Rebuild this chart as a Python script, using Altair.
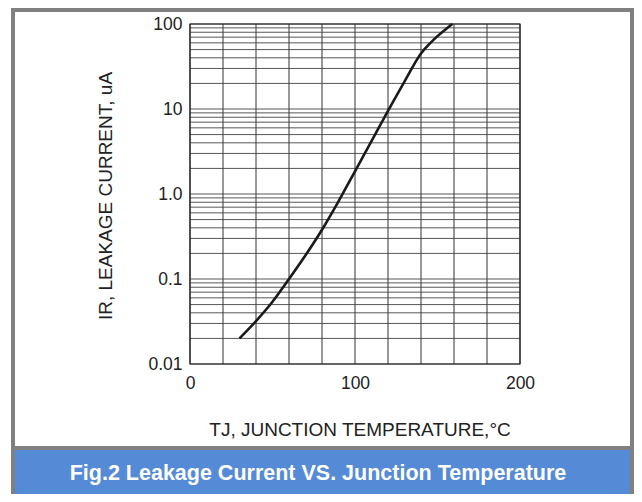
import altair as alt
import pandas as pd

# Data
temp = [30, 40, 50, 60, 70, 80, 90, 100, 110, 120, 130, 140, 145, 150, 155, 159]
current = [0.020, 0.032, 0.054, 0.10, 0.19, 0.38, 0.82, 1.85, 4.2, 9.5, 21, 45, 58, 72, 87, 100]

x_ticks = [0, 100, 200]
y_ticks = [0.01, 0.1, 1, 10, 100]
x_grid = [0, 20, 40, 60, 80, 100, 120, 140, 160, 180, 200]
decades = [0.01, 0.1, 1, 10]
mults = [1, 2, 3, 4, 5, 6, 7, 8, 9]
y_grid = [d * m for d in decades for m in mults] + [100]

x_title = "TJ, JUNCTION TEMPERATURE,°C"
y_title = "IR, LEAKAGE CURRENT, uA"
caption = "Fig.2 Leakage Current VS. Junction Temperature"

FONT = "Liberation Sans"
W, H = 330, 340

xs = alt.Scale(domain=[0, 200], nice=False, zero=False)
ys = alt.Scale(type="log", domain=[0.01, 100], nice=False)

one = pd.DataFrame({"a": [0]})

frame_gray = alt.Chart(one).mark_rect(color="#808080").encode(
    x=alt.value(-179), x2=alt.value(444), y=alt.value(-16), y2=alt.value(470))
frame_white = alt.Chart(one).mark_rect(color="white").encode(
    x=alt.value(-175), x2=alt.value(440), y=alt.value(-12), y2=alt.value(422))
frame_blue = alt.Chart(one).mark_rect(color="#548ad6").encode(
    x=alt.value(-175), x2=alt.value(440), y=alt.value(426), y2=alt.value(470))

vgrid = alt.Chart(pd.DataFrame({"t": x_grid})).mark_rule(color="#333333", strokeWidth=1).encode(
    x=alt.X("t:Q", scale=xs, axis=alt.Axis(values=x_ticks, ticks=False, domain=False, grid=False,
                                           labelFont=FONT, labelFontSize=17.5, labelColor="#222222",
                                           labelFlush=False, labelPadding=10, title=None, zindex=2)))
hgrid = alt.Chart(pd.DataFrame({"v": y_grid})).mark_rule(color="#444444", strokeWidth=0.9).encode(
    y=alt.Y("v:Q", scale=ys, axis=alt.Axis(values=y_ticks, ticks=False, domain=False, grid=False,
                                           labelFont=FONT, labelFontSize=17.5, labelColor="#222222",
                                           labelFlush=False, labelPadding=8, title=None, zindex=2,
                                           labelExpr="datum.value == 1 ? '1.0' : datum.value >= 10 ? format(datum.value, 'd') : format(datum.value, '')")))

border = alt.Chart(one).mark_rect(fill=None, stroke="#222222", strokeWidth=1.2).encode(
    x=alt.value(0), x2=alt.value(W), y=alt.value(0), y2=alt.value(H))

curve = alt.Chart(pd.DataFrame({"t": temp, "i": current})).mark_line(
    color="#1a1a1a", strokeWidth=2.6, interpolate="monotone").encode(
    x=alt.X("t:Q", scale=xs), y=alt.Y("i:Q", scale=ys))

ytitle = alt.Chart(one).mark_text(text=y_title, angle=270, font=FONT, fontSize=19,
                                  color="#222222", baseline="middle", align="center").encode(
    x=alt.value(-84), y=alt.value(172))
xtitle = alt.Chart(one).mark_text(text=x_title, font=FONT, fontSize=19,
                                  color="#222222", baseline="middle", align="center").encode(
    x=alt.value(170), y=alt.value(406))
cap = alt.Chart(one).mark_text(text=caption, font=FONT, fontSize=21.5, fontWeight="bold",
                               color="white", baseline="middle", align="center").encode(
    x=alt.value(128), y=alt.value(450))

chart = alt.layer(frame_gray, frame_white, frame_blue, vgrid, hgrid, border, curve,
                  ytitle, xtitle, cap).properties(
    width=W, height=H,
    autosize=alt.AutoSizeParams(type="none"),
    padding={"left": 182, "top": 16, "right": 114, "bottom": 130},
).configure_view(stroke=None).configure(background="white")

chart.save("out.html", embed_options={"renderer": "svg", "actions": False})
